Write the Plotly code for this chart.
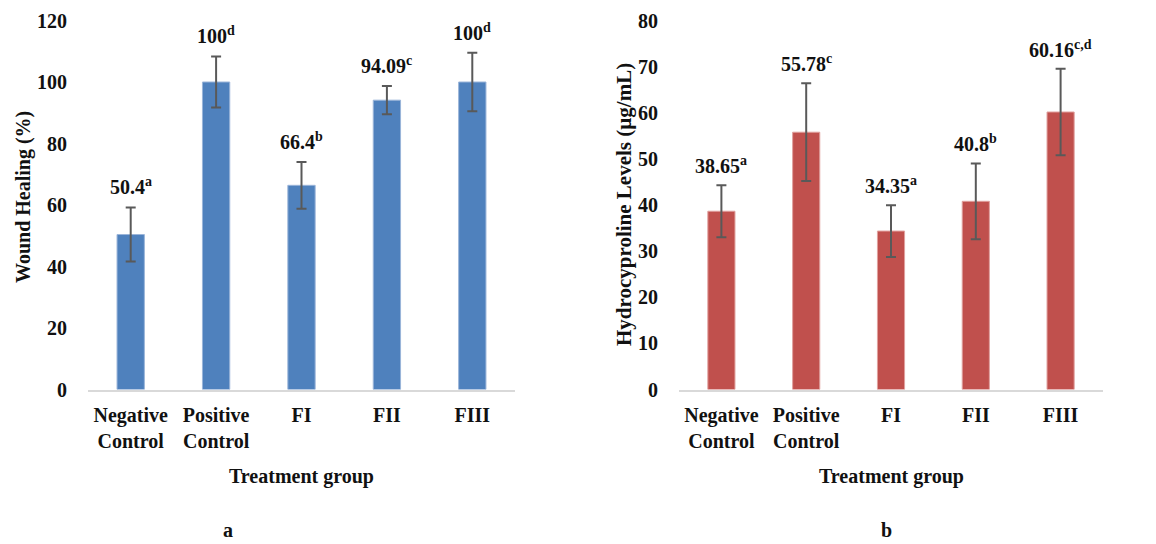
import plotly.graph_objects as go

categories = ["Negative<br>Control", "Positive<br>Control", "FI", "FII", "FIII"]

wound_values = [50.4, 100, 66.4, 94.09, 100]
wound_errors = [8.8, 8.3, 7.6, 4.6, 9.5]
wound_letters = ["a", "d", "b", "c", "d"]

hyp_values = [38.65, 55.78, 34.35, 40.8, 60.16]
hyp_errors = [5.65, 10.6, 5.6, 8.2, 9.4]
hyp_letters = ["a", "c", "a", "b", "c,d"]

wound_ticks = [0, 20, 40, 60, 80, 100, 120]
hyp_ticks = [0, 10, 20, 30, 40, 50, 60, 70, 80]

FONT = "Liberation Serif"
OFF = 8  # page body margin that shifts the figure
W, H = 1156, 544

fig = go.Figure()

fig.add_trace(go.Bar(
    x=categories, y=wound_values, xaxis="x", yaxis="y",
    marker=dict(color="#4f81bd", line=dict(color="#9bb5d9", width=1)),
    error_y=dict(type="data", array=wound_errors, visible=True,
                 color="#595959", thickness=2, width=5),
    showlegend=False,
))
fig.add_trace(go.Bar(
    x=categories, y=hyp_values, xaxis="x2", yaxis="y2",
    marker=dict(color="#c0504d", line=dict(color="#e0a09e", width=1)),
    error_y=dict(type="data", array=hyp_errors, visible=True,
                 color="#595959", thickness=2, width=5),
    showlegend=False,
))

annotations = []
for c, v, e, l in zip(categories, wound_values, wound_errors, wound_letters):
    annotations.append(dict(
        x=c, y=v + e, xref="x", yref="y", text=f"<b>{v:g}<sup>{l}</sup></b>",
        showarrow=False, yanchor="bottom", yshift=7,
        font=dict(family=FONT, size=20, color="#111111")))
for c, v, e, l in zip(categories, hyp_values, hyp_errors, hyp_letters):
    annotations.append(dict(
        x=c, y=v + e, xref="x2", yref="y2", text=f"<b>{v:g}<sup>{l}</sup></b>",
        showarrow=False, yanchor="bottom", yshift=6,
        font=dict(family=FONT, size=20, color="#111111")))


def px_x(px):
    return (px - OFF) / W


def px_y(py):
    return (H - (py - OFF)) / H


left_dom = [px_x(88), px_x(515)]
right_dom = [px_x(679), px_x(1103)]
y_dom = [px_y(389.5), px_y(20.5)]


def paper_text(x, y, text, angle=0, size=20):
    return dict(x=px_x(x), y=px_y(y), xref="paper", yref="paper",
                xanchor="center", yanchor="middle",
                text=f"<b>{text}</b>", showarrow=False, textangle=angle,
                font=dict(family=FONT, size=size, color="#111111"))


annotations += [
    paper_text(301.5, 477, "Treatment group"),
    paper_text(891, 477, "Treatment group"),
    paper_text(23, 197, "Wound Healing (%)", -90),
    paper_text(624, 204, "Hydrocyproline Levels (µg/mL)", -90, 21),
    paper_text(228, 530, "a"),
    paper_text(886, 530, "b"),
]

tfont = dict(family=FONT, size=20, color="#111111", weight="bold")
xcommon = dict(showgrid=False, zeroline=False, showline=True, linecolor="#d9d9d9",
               linewidth=2, ticks="outside", ticklen=6, tickcolor="rgba(0,0,0,0)",
               tickfont=tfont, automargin=False, fixedrange=True)
ycommon = dict(showgrid=False, zeroline=False, showline=False,
               ticks="outside", ticklen=16, tickcolor="rgba(0,0,0,0)",
               tickfont=tfont, automargin=False, fixedrange=True)

fig.update_layout(
    template="none",
    width=W, height=H,
    margin=dict(l=0, r=0, t=0, b=0, pad=0),
    paper_bgcolor="white", plot_bgcolor="white",
    bargap=0.68,
    xaxis=dict(domain=left_dom, anchor="y", **xcommon),
    yaxis=dict(domain=y_dom, anchor="x", range=[0, 120], tickvals=wound_ticks, **ycommon),
    xaxis2=dict(domain=right_dom, anchor="y2", **xcommon),
    yaxis2=dict(domain=y_dom, anchor="x2", range=[0, 80], tickvals=hyp_ticks, **ycommon),
    annotations=annotations,
)

fig.write_html("out.html")
